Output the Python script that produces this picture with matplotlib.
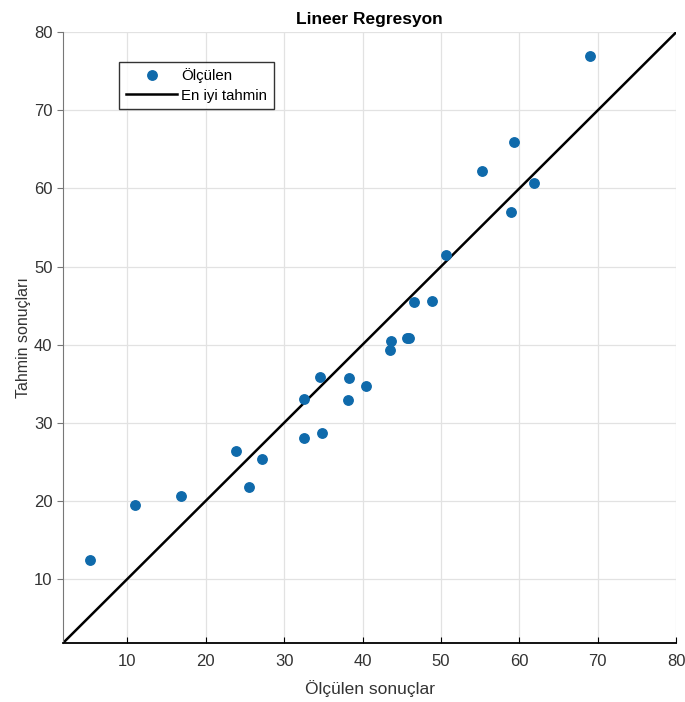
import matplotlib
matplotlib.use("Agg")
import matplotlib.pyplot as plt

plt.rcParams['font.family'] = ['Liberation Sans', 'DejaVu Sans']

# measured vs predicted values
measured = [5.2, 11.0, 16.85, 23.9, 25.5, 27.15, 32.6, 32.6, 34.8, 38.1,
            34.6, 38.3, 40.5, 43.6, 43.5, 45.7, 45.9, 46.6, 48.9, 50.6,
            55.2, 58.9, 59.3, 61.9, 69.0]
predicted = [12.4, 19.45, 20.6, 26.4, 21.8, 25.3, 28.1, 33.0, 28.75, 32.9,
             35.9, 35.75, 34.7, 40.5, 39.3, 40.8, 40.9, 45.5, 45.6, 51.45,
             62.2, 57.0, 65.9, 60.75, 77.0]

lim = [1.8, 80]
ticks = [10, 20, 30, 40, 50, 60, 70, 80]

fig = plt.figure(figsize=(6.85, 7.02), dpi=100)
ax = fig.add_axes([0.092, 0.084, 0.895, 0.87])

ax.plot(measured, predicted, 'o', color='#0f6aab', markersize=6.8,
        label='Ölçülen', zorder=3)
ax.plot(lim, lim, '-', color='black', linewidth=1.8, label='En iyi tahmin', zorder=2)

ax.set_xlim(lim)
ax.set_ylim(lim)
ax.set_xticks(ticks)
ax.set_yticks(ticks)
ax.grid(True, color='#e2e2e2', linewidth=0.9)
ax.set_axisbelow(True)

ax.spines['top'].set_visible(False)
ax.spines['right'].set_visible(False)
ax.spines['left'].set_color('#777777')
ax.spines['bottom'].set_color('black')
ax.spines['bottom'].set_linewidth(1.3)

ax.tick_params(axis='x', direction='in', length=4, labelsize=12,
               labelcolor='#333333', pad=8)
ax.tick_params(axis='y', direction='out', length=4, labelsize=12,
               labelcolor='#333333', color='#777777')

ax.set_title('Lineer Regresyon', fontsize=12.5, fontweight='bold', pad=6)
ax.set_xlabel('Ölçülen sonuçlar', fontsize=12.5, color='#333333', labelpad=8)
ax.set_ylabel('Tahmin sonuçları', fontsize=11.5, color='#333333', labelpad=2)

leg = ax.legend(loc='upper left', bbox_to_anchor=(0.092, 0.952), borderaxespad=0,
                fontsize=10.8, frameon=True, fancybox=False, handlelength=3.4,
                handletextpad=0.25, borderpad=0.45, labelspacing=0.35)
leg.get_frame().set_edgecolor('black')
leg.get_frame().set_linewidth(1.0)

fig.savefig('out.png', dpi=100)
